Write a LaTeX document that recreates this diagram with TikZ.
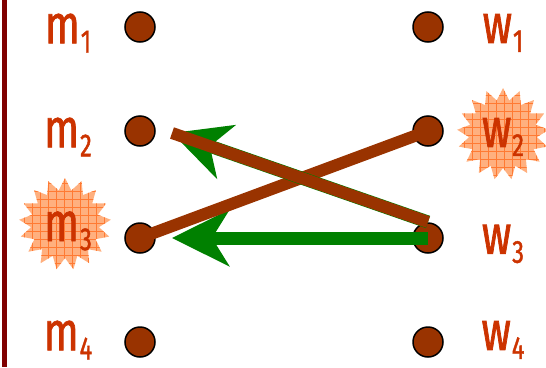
\documentclass[tikz,border=0pt]{standalone}
\usepackage{fontspec}
\newfontfamily\namefont[FakeStretch=0.74,FakeBold=1.3]{Fira Sans}
\usetikzlibrary{arrows.meta,shapes.geometric,patterns.meta}
\definecolor{rust}{HTML}{993300}
\definecolor{namered}{HTML}{CC3300}
\definecolor{propgreen}{HTML}{008000}
\definecolor{barred}{HTML}{800000}
\definecolor{burstfill}{HTML}{FFB07F}
\definecolor{burstgrid}{HTML}{FF7A33}
\newcommand{\who}[2]{#1\kern1pt\raisebox{-9pt}{\fontsize{32}{32}\selectfont #2}}

\begin{document}
\begin{tikzpicture}[x=1pt,y=-1pt,
    dot/.style={circle,draw=black,line width=1.5pt,fill=rust,minimum size=30pt,inner sep=0pt},
    tag/.style={font=\namefont\fontsize{55}{55}\selectfont,text=namered,inner sep=0pt},
    burst/.style={star,star points=17,star point ratio=1.35,minimum size=92pt,inner sep=0pt,
        fill=burstfill,postaction={pattern={Hatch[angle=0,distance=8pt,line width=0.6pt]},pattern color=burstgrid}},
    pair/.style={rust,line width=12pt},
    propose/.style={propgreen,line width=13pt,-{Stealth[length=57pt,width=56pt,inset=17pt]}}
]
\useasboundingbox (0,0) rectangle (546,367);
\draw[barred,line width=5pt] (4.5,0) -- (4.5,367);

% the two stars
\node[burst] (sm3) at (65,224) {};
\node[burst] (sw2) at (503,134) {};

% names
\node[tag] (lm1) at (68,33) {\who{m}{1}};
\node[tag] (lm2) at (68,137) {\who{m}{2}};
\node[tag] (lm3) at (68,231) {\who{m}{3}};
\node[tag] (lm4) at (68,340) {\who{m}{4}};
\node[tag] (lw1) at (503,33) {\who{w}{1}};
\node[tag] (lw2) at (503,137) {\who{w}{2}};
\node[tag] (lw3) at (503,244) {\who{w}{3}};
\node[tag] (lw4) at (503,340) {\who{w}{4}};

% people
\node[dot] (m1) at (140,27) {};
\node[dot] (m2) at (140,131) {};
\node[dot] (m3) at (140,238) {};
\node[dot] (m4) at (140,342) {};
\node[dot] (w1) at (428,27) {};
\node[dot] (w2) at (428,131) {};
\node[dot] (w3) at (428,238) {};
\node[dot] (w4) at (428,342) {};

% proposals and pairs
\draw[propose,shorten >=32pt] (w3.center) -- (m3.center);
\draw[pair] (m3.center) -- (w2.center);
\coordinate (pm2) at (172,133);
\coordinate (pw3) at (428,222);
\draw[propose] (pw3) -- (pm2);
\draw[pair] (pw3) -- (pm2);
\end{tikzpicture}
\end{document}
